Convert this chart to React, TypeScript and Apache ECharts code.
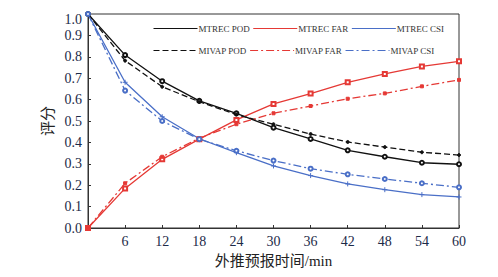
import React, { useEffect, useRef } from "react";
import * as echarts from "echarts";

const xValues = [0, 6, 12, 18, 24, 30, 36, 42, 48, 54, 60];
const mtrecPOD = [1.0, 0.808, 0.686, 0.594, 0.536, 0.469, 0.416, 0.363, 0.333, 0.305, 0.298];
const mivapPOD = [1.0, 0.782, 0.66, 0.59, 0.53, 0.485, 0.439, 0.402, 0.378, 0.354, 0.341];
const mtrecFAR = [0.0, 0.185, 0.321, 0.415, 0.505, 0.58, 0.628, 0.681, 0.72, 0.755, 0.779];
const mivapFAR = [0.0, 0.209, 0.333, 0.42, 0.485, 0.536, 0.57, 0.604, 0.629, 0.662, 0.692];
const mtrecCSI = [1.0, 0.681, 0.52, 0.417, 0.352, 0.29, 0.245, 0.206, 0.179, 0.156, 0.145];
const mivapCSI = [1.0, 0.642, 0.5, 0.415, 0.361, 0.315, 0.277, 0.251, 0.229, 0.209, 0.19];
const yTicks = [0, 0.1, 0.2, 0.3, 0.4, 0.5, 0.6, 0.7, 0.8, 0.9, 1.0];

const BLACK = "#111111";
const RED = "#e53935";
const BLUE = "#4a6fc7";
const SERIF = "'Liberation Serif', 'Times New Roman', serif";
const CROSS = "path://M0,5L10,5M5,0L5,10";

const pair = (ys: number[]) => xValues.map((x, i) => [x, ys[i]]);

export default function App() {
  const ref = useRef<HTMLDivElement>(null);
  useEffect(() => {
    if (!ref.current) return;
    const chart = echarts.init(ref.current, undefined, { renderer: "svg" });
    const mk = (
      name: string,
      ys: number[],
      color: string,
      type: any,
      symbol: string,
      size: number
    ) => ({
      name,
      type: "line",
      data: pair(ys),
      symbol,
      symbolSize: size,
      showSymbol: true,
      lineStyle: { color, width: 1.3, type },
      itemStyle: { color, borderColor: color, borderWidth: 1 },
      emphasis: { disabled: true },
    });
    const legendCommon = {
      left: 148,
      itemWidth: 44,
      itemHeight: 6,
      itemGap: 3,
      orient: "horizontal" as const,
      textStyle: { fontFamily: SERIF, fontSize: 9, color: "#333", padding: [0, 0, 0, -4] },
      itemStyle: { opacity: 0 },
      lineStyle: { width: 1 },
      selectedMode: false,
    };
    chart.setOption({
      animation: false,
      grid: {
        left: 88,
        right: 39,
        top: 14,
        bottom: 49,
        show: true,
        borderColor: "#333",
        borderWidth: 1,
        outerBoundsMode: "none",
      },
      legend: [
        { ...legendCommon, top: 19, data: ["MTREC POD", "MTREC FAR", "MTREC CSI"] },
        { ...legendCommon, top: 41, data: ["MIVAP POD", "MIVAP FAR", "MIVAP CSI"] },
      ],
      xAxis: {
        type: "value",
        min: 0,
        max: 60,
        interval: 6,
        name: "外推预报时间/min",
        nameLocation: "middle",
        nameGap: 25,
        nameTextStyle: { fontFamily: "'Liberation Serif', 'Noto Sans CJK SC', serif", fontSize: 15, color: "#222" },
        axisLine: { lineStyle: { color: "#333", width: 1 } },
        axisTick: { inside: true, length: 3, lineStyle: { color: "#333" } },
        axisLabel: {
          fontFamily: SERIF,
          fontSize: 14,
          color: "#1c2a48",
          margin: 6,
          formatter: (v: number) => (v === 0 ? "" : String(v)),
        },
        splitLine: { show: false },
      },
      yAxis: {
        type: "value",
        min: 0,
        max: 1,
        interval: 0.1,
        name: "评分",
        nameLocation: "middle",
        nameGap: 34,
        nameTextStyle: { fontFamily: "'Noto Sans CJK SC', serif", fontSize: 15, color: "#222" },
        axisLine: { show: true, lineStyle: { color: "#333", width: 1 } },
        axisTick: { show: true, inside: true, length: 3, lineStyle: { color: "#333" } },
        axisLabel: {
          fontFamily: SERIF,
          fontSize: 14,
          color: "#1c2a48",
          margin: 6,
          formatter: (v: number) => {
            const t = yTicks.find((k) => Math.abs(k - v) < 1e-6);
            const s = (t ?? v).toFixed(1);
            return v >= 0.999 ? "{top|" + s + "}" : s;
          },
          rich: {
            top: { fontFamily: SERIF, fontSize: 14, color: "#1c2a48", padding: [10, 0, 0, 0] },
          },
        },
        splitLine: { show: false },
      },
      series: [
        mk("MTREC POD", mtrecPOD, BLACK, "solid", "emptyCircle", 4),
        mk("MTREC FAR", mtrecFAR, RED, "solid", "emptyRect", 4),
        mk("MTREC CSI", mtrecCSI, BLUE, "solid", CROSS, 5),
        mk("MIVAP POD", mivapPOD, BLACK, [6, 3], "circle", 3),
        mk("MIVAP FAR", mivapFAR, RED, [8, 3, 2, 3], "rect", 3),
        mk("MIVAP CSI", mivapCSI, BLUE, [8, 3, 2, 3], "emptyCircle", 4),
      ],
    });
    return () => chart.dispose();
  }, []);
  return (
    <div
      ref={ref}
      style={{ position: "fixed", left: 0, top: 0, width: 498, height: 277, background: "#fff" }}
    />
  );
}
